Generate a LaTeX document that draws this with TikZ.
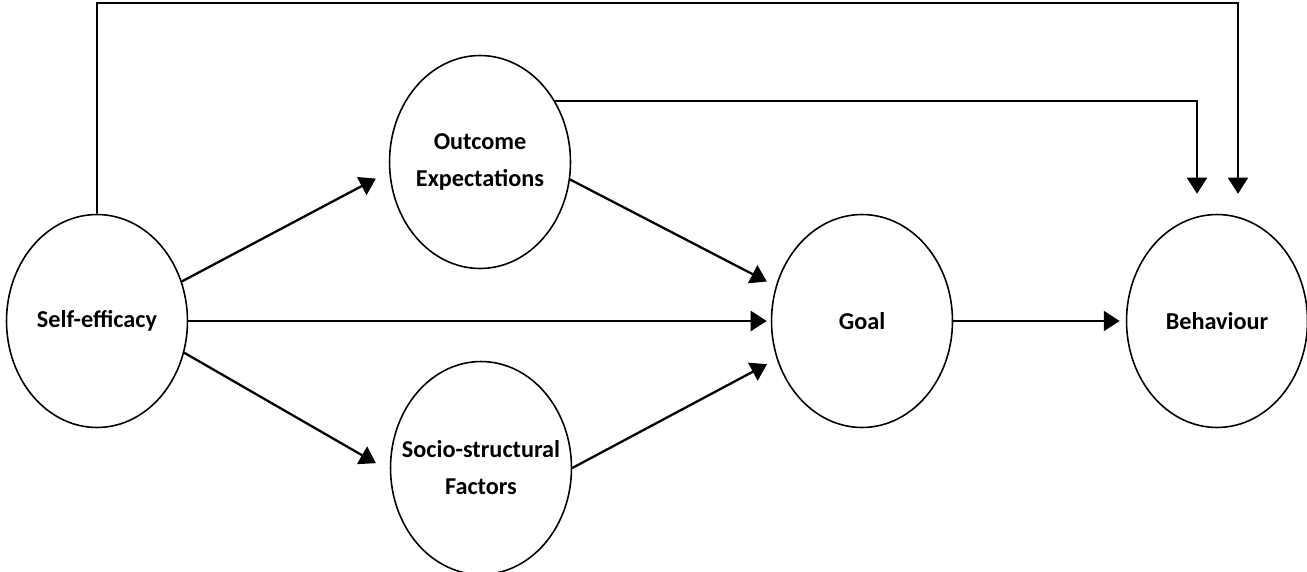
\documentclass[tikz,border=0pt]{standalone}
\usepackage{fontspec}
\setmainfont{Carlito}
\usepackage{tikz}
\usetikzlibrary{shapes.geometric,arrows.meta}

\tikzset{
  blob/.style={draw, ellipse, line width=0.9pt, minimum width=3.62cm, minimum height=4.26cm, inner sep=0pt},
  lbl/.style={font=\fontsize{13.8}{21}\selectfont\bfseries, align=center},
  arr/.style={line width=1.3pt, -{Triangle[length=0.32cm,width=0.4cm]}},
  thinarr/.style={arr, line width=1pt}
}

\begin{document}
\begin{tikzpicture}[x=0.02cm,y=-0.02cm]
    \useasboundingbox (0,0) rectangle (1307,571);

    % Factors
    \node[blob, label={[lbl]center:Self-efficacy}] (se) at (97,321) {};
    \node[blob, label={[lbl]center:Outcome\\Expectations}] (oe) at (480,162) {};
    \node[blob, label={[lbl]center:Socio-structural\\Factors}] (ss) at (481,468) {};
    \node[blob, label={[lbl]center:Goal}] (goal) at (862,321) {};
    \node[blob, label={[lbl]center:Behaviour}] (bh) at (1217,321) {};

    % Entry points above behaviour
    \coordinate (in1) at ([xshift=-0.4cm]bh.north);
    \coordinate (in2) at ([xshift=0.42cm]bh.north);
    \coordinate (top) at (1238,3);

    % Self-efficacy paths
    \draw[arr, shorten >=0.3cm] (se.25) -- (oe.186);
    \draw[arr, shorten >=0.32cm] (se.340) -- (ss.182);
    \draw[arr, shorten >=0.08cm] (se.east) -- (goal.west);

    % Into goal
    \draw[arr, shorten >=0.2cm] (oe.349) -- (goal.158);
    \draw[arr, shorten >=0.22cm] (ss.east) -- (goal.204);

    % Goal to behaviour
    \draw[arr, shorten >=0.12cm] (goal.east) -- (bh.west);

    % Direct paths to behaviour
    \draw[thinarr, shorten >=0.4cm] (oe.39) -| (in1);
    \draw[thinarr, shorten >=0.4cm] (se.north) |- (top) -- (in2);
\end{tikzpicture}
\end{document}
